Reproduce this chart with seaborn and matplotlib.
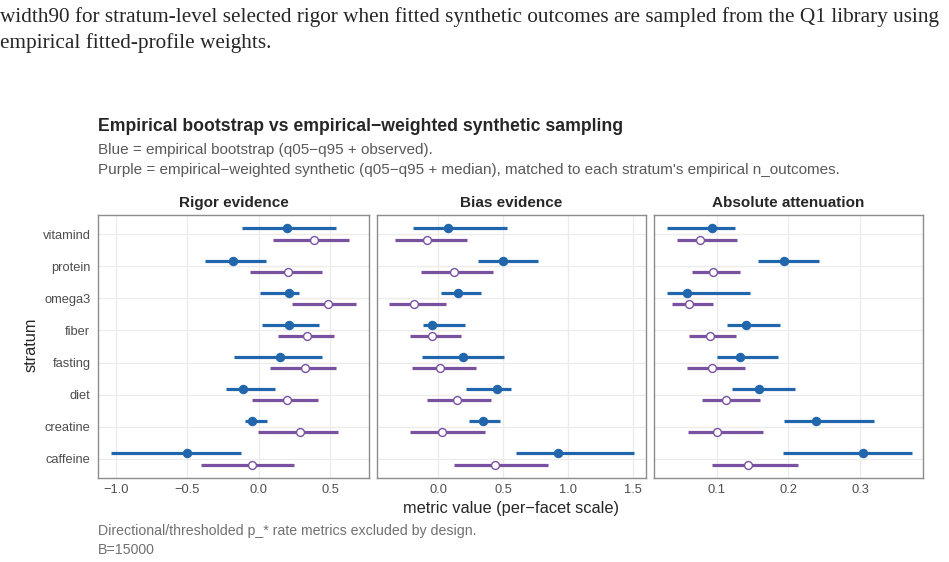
import numpy as np
import pandas as pd
import matplotlib
matplotlib.use("Agg")
import matplotlib.pyplot as plt
import seaborn as sns

# Data (lo, point, hi) for each stratum, top to bottom
strata = ["vitamind", "protein", "omega3", "fiber", "fasting", "diet", "creatine", "caffeine"]
metrics = ["Rigor evidence", "Bias evidence", "Absolute attenuation"]

rigor_emp_lo = [-0.118, -0.375, 0.010, 0.026, -0.174, -0.230, -0.093, -1.033]
rigor_emp_pt = [0.201, -0.181, 0.213, 0.211, 0.152, -0.111, -0.048, -0.501]
rigor_emp_hi = [0.544, 0.052, 0.285, 0.425, 0.444, 0.113, 0.057, -0.123]
rigor_syn_lo = [0.101, -0.062, 0.234, 0.138, 0.078, -0.044, -0.002, -0.405]
rigor_syn_pt = [0.390, 0.204, 0.484, 0.341, 0.323, 0.201, 0.290, -0.048]
rigor_syn_hi = [0.635, 0.444, 0.682, 0.526, 0.544, 0.416, 0.558, 0.250]

bias_emp_lo = [-0.197, 0.310, 0.023, -0.113, -0.123, 0.213, 0.238, 0.595]
bias_emp_pt = [0.072, 0.495, 0.149, -0.049, 0.192, 0.451, 0.344, 0.921]
bias_emp_hi = [0.533, 0.764, 0.326, 0.205, 0.503, 0.564, 0.472, 1.503]
bias_syn_lo = [-0.331, -0.128, -0.377, -0.215, -0.203, -0.085, -0.215, 0.121]
bias_syn_pt = [-0.082, 0.123, -0.185, -0.046, 0.018, 0.146, 0.026, 0.438]
bias_syn_hi = [0.223, 0.423, 0.059, 0.174, 0.292, 0.410, 0.359, 0.844]

att_emp_lo = [0.031, 0.158, 0.031, 0.115, 0.100, 0.121, 0.194, 0.193]
att_emp_pt = [0.0935, 0.194, 0.058, 0.141, 0.133, 0.159, 0.239, 0.304]
att_emp_hi = [0.126, 0.243, 0.147, 0.189, 0.186, 0.209, 0.320, 0.373]
att_syn_lo = [0.044, 0.066, 0.038, 0.061, 0.058, 0.080, 0.060, 0.093]
att_syn_pt = [0.077, 0.095, 0.062, 0.091, 0.0935, 0.1135, 0.100, 0.144]
att_syn_hi = [0.129, 0.133, 0.095, 0.127, 0.139, 0.160, 0.164, 0.213]

x_ticks = [[-1.0, -0.5, 0.0, 0.5], [0.0, 0.5, 1.0, 1.5], [0.1, 0.2, 0.3]]
x_limits = [(-1.124, 0.773), (-0.47, 1.598), (0.0125, 0.388)]

rows = []
series = {
    "Rigor evidence": [(rigor_emp_lo, rigor_emp_pt, rigor_emp_hi), (rigor_syn_lo, rigor_syn_pt, rigor_syn_hi)],
    "Bias evidence": [(bias_emp_lo, bias_emp_pt, bias_emp_hi), (bias_syn_lo, bias_syn_pt, bias_syn_hi)],
    "Absolute attenuation": [(att_emp_lo, att_emp_pt, att_emp_hi), (att_syn_lo, att_syn_pt, att_syn_hi)],
}
for m in metrics:
    for src, (lo, pt, hi) in zip(["empirical", "synthetic"], series[m]):
        for s, a, b, c in zip(strata, lo, pt, hi):
            rows.append({"metric": m, "source": src, "stratum": s, "lo": a, "pt": b, "hi": c})
df = pd.DataFrame(rows)

# caffeine at bottom (0), vitamind at top; blue dodged up, purple down
ypos = {s: len(strata) - 1 - i for i, s in enumerate(strata)}
dodge = {"empirical": 0.18, "synthetic": -0.18}
df["y"] = df["stratum"].map(ypos) + df["source"].map(dodge)

blue = "#2166ac"
purple = "#7a51a1"
colors = {"empirical": blue, "synthetic": purple}

sns.set_theme(style="white")
plt.rcParams["font.family"] = ["Liberation Sans", "DejaVu Sans"]

fig = plt.figure(figsize=(9.49, 5.62), dpi=100)
W, H = 949, 562

panels = [(98, 369), (377, 646), (654, 923)]
top, bottom = 215, 478

for i, m in enumerate(metrics):
    x0, x1 = panels[i]
    ax = fig.add_axes([x0 / W, 1 - bottom / H, (x1 - x0) / W, (bottom - top) / H])
    sub = df[df["metric"] == m]
    for src in ["empirical", "synthetic"]:
        d = sub[sub["source"] == src]
        ax.hlines(d["y"], d["lo"], d["hi"], color=colors[src], lw=2.3, zorder=3)
    sns.scatterplot(data=sub[sub["source"] == "empirical"], x="pt", y="y", ax=ax,
                    color=blue, s=36, edgecolor=blue, linewidth=0.8, zorder=4, legend=False)
    sns.scatterplot(data=sub[sub["source"] == "synthetic"], x="pt", y="y", ax=ax,
                    color="white", s=32, edgecolor=purple, linewidth=1.0, zorder=4, legend=False)
    ax.set_xlim(*x_limits[i])
    ax.set_ylim(-0.6, len(strata) - 0.4)
    ax.set_xticks(x_ticks[i])
    ax.set_xticklabels([f"{t:.1f}".replace("-", "\u2212") for t in x_ticks[i]])
    ax.set_yticks(list(ypos.values()))
    if i == 0:
        ax.set_yticklabels(list(ypos.keys()))
    else:
        ax.set_yticklabels([])
    ax.grid(True, color="#ebebeb", lw=0.9)
    ax.set_axisbelow(True)
    for sp in ax.spines.values():
        sp.set_color("#8c8c8c")
        sp.set_linewidth(1.0)
    ax.tick_params(axis="both", length=0, labelsize=9.3, labelcolor="#4d4d4d", pad=4)
    ax.tick_params(axis="y", length=2.5, color="#8c8c8c", pad=3)
    ax.set_xlabel("")
    ax.set_ylabel("")
    ax.set_title(m, fontsize=11, fontweight="bold", pad=6)

# page text above the chart
fig.text(0.0, 1 - 17 / H, "width90 for stratum-level selected rigor when fitted synthetic outcomes are sampled from the Q1 library using",
         family="Liberation Serif", fontsize=15.3, va="center", ha="left")
fig.text(0.0, 1 - 43 / H, "empirical fitted-profile weights.",
         family="Liberation Serif", fontsize=15.3, va="center", ha="left")

fig.text(98 / W, 1 - 126 / H, "Empirical bootstrap vs empirical\u2212weighted synthetic sampling",
         fontsize=12.7, fontweight="bold", va="center")
fig.text(98 / W, 1 - 150 / H, "Blue = empirical bootstrap (q05\u2212q95 + observed).",
         fontsize=11.0, color="#595959", va="center")
fig.text(98 / W, 1 - 170 / H,
         "Purple = empirical\u2212weighted synthetic (q05\u2212q95 + median), matched to each stratum's empirical n_outcomes.",
         fontsize=11.0, color="#595959", va="center")
fig.text(31 / W, 1 - 345 / H, "stratum", rotation=90, fontsize=11.8, va="center", ha="center")
fig.text(511 / W, 1 - 509 / H, "metric value (per\u2212facet scale)", fontsize=11.8, va="center", ha="center")
fig.text(98 / W, 1 - 531 / H, "Directional/thresholded p_* rate metrics excluded by design.",
         fontsize=10.2, color="#707070", va="center")
fig.text(98 / W, 1 - 550 / H, "B=15000", fontsize=10.2, color="#707070", va="center")

fig.savefig("out.png", dpi=100)
